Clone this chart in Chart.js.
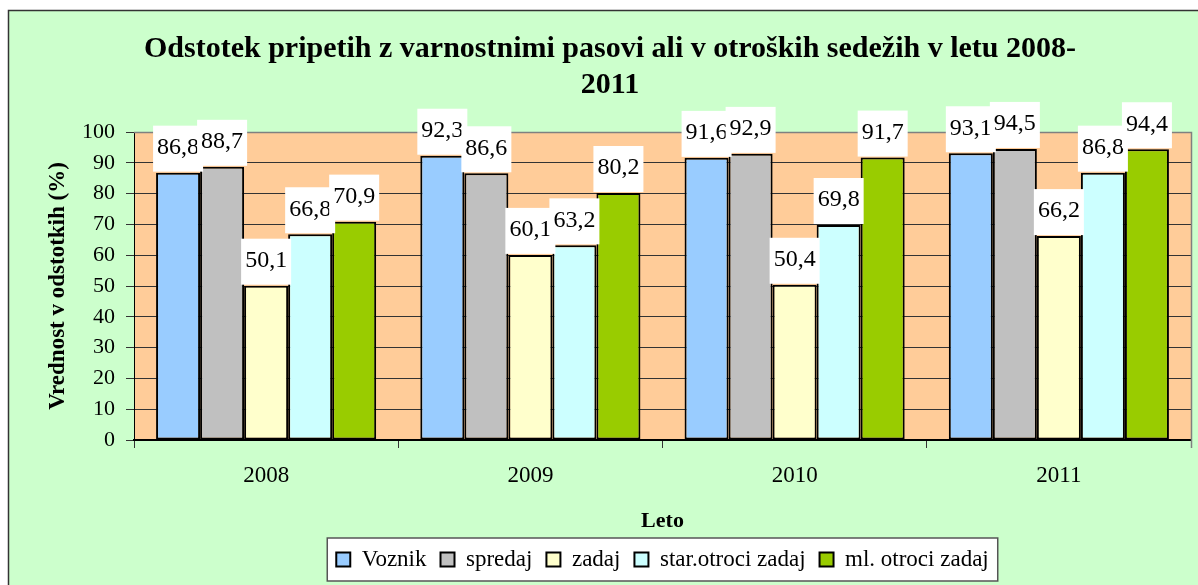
<!DOCTYPE html>
<html><head><meta charset="utf-8">
<script src="https://cdn.jsdelivr.net/npm/chart.js@4.4.1/dist/chart.umd.min.js"></script>
<style>html,body{margin:0;padding:0;background:#fff;}canvas{display:block}</style>
</head><body>
<div style="width:1198px;height:585px"><canvas id="c" width="1198" height="585"></canvas></div>
<script>
const categories = ['2008', '2009', '2010', '2011'];
const seriesNames = ['Voznik', 'spredaj', 'zadaj', 'star.otroci zadaj', 'ml. otroci zadaj'];
const voznik = [86.8, 92.3, 91.6, 93.1];
const spredaj = [88.7, 86.6, 92.9, 94.5];
const zadaj = [50.1, 60.1, 50.4, 66.2];
const starOtrociZadaj = [66.8, 63.2, 69.8, 86.8];
const mlOtrociZadaj = [70.9, 80.2, 91.7, 94.4];
const yMin = 0, yMax = 100, yStep = 10;
const titleLines = ['Odstotek pripetih z varnostnimi pasovi ali v otroških sedežih v letu 2008-', '2011'];
const yTitle = 'Vrednost v odstotkih (%)';
const xTitle = 'Leto';

const seriesValues = [voznik, spredaj, zadaj, starOtrociZadaj, mlOtrociZadaj];
const seriesColors = ['#99CCFF', '#C0C0C0', '#FFFFCC', '#CCFFFF', '#99CC00'];
const FONT = '"Liberation Serif", "Times New Roman", serif';
Chart.defaults.font.family = FONT;
Chart.defaults.color = '#000';

const fmt = v => v.toFixed(1).replace('.', ',');

const bgPlugin = {
  id: 'bgPlugin',
  afterLayout(chart) {
    const lg = chart.legend, ca = chart.chartArea;
    lg.left = ca.left;
    lg.right = ca.right;
    lg.width = lg.right - lg.left;
  },
  beforeDraw(chart) {
    const ctx = chart.ctx, ca = chart.chartArea;
    ctx.save();
    ctx.fillStyle = '#FFFFFF';
    ctx.fillRect(0, 0, chart.width, chart.height);
    ctx.fillStyle = '#CCFFCC';
    ctx.fillRect(8, 10, chart.width, chart.height);
    ctx.strokeStyle = '#333';
    ctx.lineWidth = 1.5;
    ctx.strokeRect(8.5, 10.5, chart.width + 20, chart.height + 20);
    ctx.fillStyle = '#FFCC99';
    ctx.fillRect(ca.left, ca.top, ca.right - ca.left, ca.bottom - ca.top);
    const hb = chart.legend.legendHitBoxes;
    if (hb && hb.length) {
      const first = hb[0], last = hb[hb.length - 1];
      const l = first.left - 9, r = last.left + last.width + 9;
      const t = first.top - 10, b = first.top + 33;
      ctx.fillStyle = '#FFFFFF';
      ctx.fillRect(l, t, r - l, b - t);
      ctx.strokeStyle = '#555';
      ctx.lineWidth = 1.5;
      ctx.strokeRect(l, t, r - l, b - t);
    }
    ctx.restore();
  },
  afterDatasetsDraw(chart) {
    const ctx = chart.ctx, ca = chart.chartArea;
    ctx.save();
    ctx.strokeStyle = '#808080';
    ctx.lineWidth = 1.5;
    ctx.beginPath();
    ctx.moveTo(ca.left, ca.top + 0.5);
    ctx.lineTo(ca.right + 0.5, ca.top + 0.5);
    ctx.lineTo(ca.right + 0.5, ca.bottom + 8);
    ctx.stroke();
    ctx.font = '24px ' + FONT;
    ctx.textAlign = 'center';
    ctx.textBaseline = 'middle';
    chart.data.datasets.forEach((ds, di) => {
      const meta = chart.getDatasetMeta(di);
      meta.data.forEach((el, i) => {
        const txt = fmt(ds.data[i]);
        const w = ctx.measureText(txt).width + 8;
        const h = 46;
        const bottom = el.y - 1;
        ctx.fillStyle = '#FFFFFF';
        ctx.fillRect(el.x - w / 2, bottom - h, w, h);
        ctx.fillStyle = '#000';
        ctx.fillText(txt, el.x, bottom - h / 2 - 1);
      });
    });
    ctx.restore();
  }
};

const datasets = seriesNames.map((name, i) => ({
  label: name,
  data: seriesValues[i],
  backgroundColor: seriesColors[i],
  borderColor: '#000',
  borderWidth: 2,
  borderSkipped: false,
  categoryPercentage: 0.833,
  barPercentage: 1.0
}));

new Chart(document.getElementById('c'), {
  type: 'bar',
  data: { labels: categories, datasets },
  options: {
    responsive: false,
    animation: false,
    devicePixelRatio: 1,
    layout: { padding: { left: 29, right: 7, top: 0, bottom: 4 } },
    plugins: {
      title: {
        display: true,
        text: titleLines,
        color: '#000',
        font: { family: FONT, size: 30, weight: 'bold', lineHeight: 1.2 },
        padding: { top: 31, bottom: 29 }
      },
      legend: {
        position: 'bottom',
        labels: {
          font: { family: FONT, size: 23 },
          color: '#000',
          boxWidth: 14,
          boxHeight: 14,
          padding: 14
        }
      },
      tooltip: { enabled: false }
    },
    scales: {
      x: {
        afterFit(scale) { scale.height = 94; },
        ticks: { font: { family: FONT, size: 23 }, color: '#000', padding: 14 },
        grid: { drawOnChartArea: false, tickLength: 8, color: '#333', offset: true },
        border: { color: '#000', width: 2 },
        title: { display: true, text: xTitle, color: '#000', font: { family: FONT, size: 22, weight: 'bold', lineHeight: 1.1 }, padding: { top: 0, bottom: 1 } }
      },
      y: {
        min: yMin, max: yMax,
        afterFit(scale) { scale.width = 105; },
        ticks: { stepSize: yStep, font: { family: FONT, size: 22 }, color: '#000', padding: 11 },
        grid: { color: '#333', tickLength: 8, tickColor: '#333' },
        border: { color: '#000', width: 1 },
        title: { display: true, text: yTitle, color: '#000', font: { family: FONT, size: 23, weight: 'bold', lineHeight: 1.2 }, padding: { top: 15, bottom: 0 } }
      }
    }
  },
  plugins: [bgPlugin]
});
</script>
</body></html>
